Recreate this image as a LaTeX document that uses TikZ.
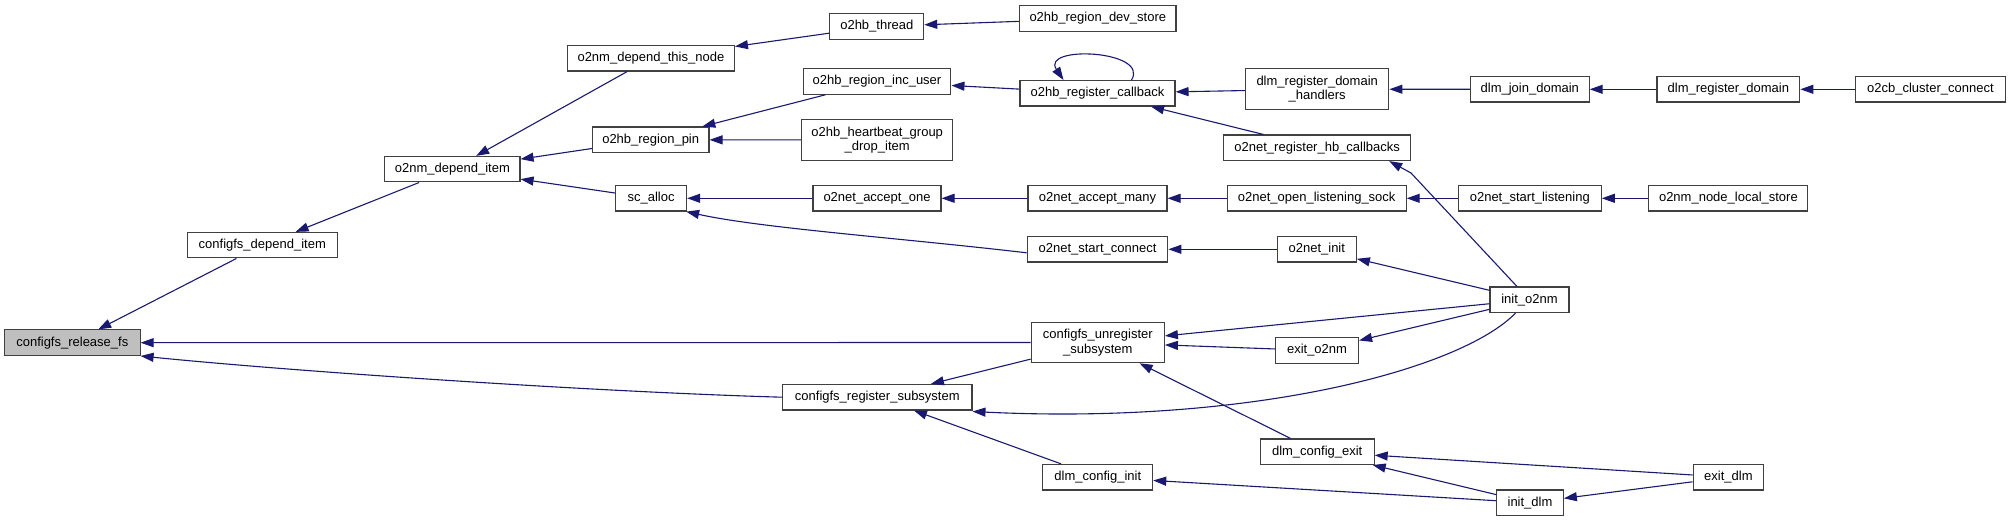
\documentclass[tikz,border=0pt]{standalone}
\usepackage{fontspec}
\setmainfont{Liberation Sans}
\usetikzlibrary{arrows.meta}
\definecolor{edgec}{HTML}{191970}
\definecolor{rootfill}{HTML}{BFBFBF}
\begin{document}
\begin{tikzpicture}[x=1pt,y=-1pt,
  box/.style={draw=black!75, line width=1.1pt, fill=white, inner sep=0pt,
    font=\fontsize{13}{14.5}\selectfont, align=center, minimum height=25.5pt},
  two/.style={minimum height=40.5pt},
  conn/.style={draw=edgec, line width=1.1pt, -{Triangle[length=13pt,width=9pt]}}]
\fill[white] (0,0) rectangle (2011,521);
\useasboundingbox (0,0) rectangle (2011,521);
% nodes
\node[box, fill=rootfill, minimum width=135.5pt] (relfs) at (72.3,342.7) {configfs\_release\_fs};
\node[box, minimum width=149.5pt] (cdep) at (262.3,245.2) {configfs\_depend\_item};
\node[box, minimum width=135.2pt] (ndep) at (452.4,169.2) {o2nm\_depend\_item};
\node[box, minimum width=167pt] (nthis) at (650.9,58.3) {o2nm\_depend\_this\_node};
\node[box, minimum width=116.6pt] (rpin) at (650.7,139.8) {o2hb\_region\_pin};
\node[box, minimum width=71pt] (sca) at (651.1,198.3) {sc\_alloc};
\node[box, minimum width=93.8pt] (thr) at (876.8,26.5) {o2hb\_thread};
\node[box, minimum width=156.3pt] (dev) at (1097.8,18.5) {o2hb\_region\_dev\_store};
\node[box, minimum width=147.8pt] (inc) at (877,81.5) {o2hb\_region\_inc\_user};
\node[box, two, minimum width=150.9pt] (drop) at (877.2,140) {o2hb\_heartbeat\_group\\\_drop\_item};
\node[box, minimum width=155pt] (regcb) at (1097.5,93.3) {o2hb\_register\_callback};
\node[box, two, minimum width=143.3pt] (ddh) at (1317.2,89.2) {dlm\_register\_domain\\\_handlers};
\node[box, minimum width=186.9pt] (hbcb) at (1317.2,147.8) {o2net\_register\_hb\_callbacks};
\node[box, minimum width=128pt] (acc1) at (877,198.3) {o2net\_accept\_one};
\node[box, minimum width=139pt] (accm) at (1097.5,198.3) {o2net\_accept\_many};
\node[box, minimum width=178.9pt] (ols) at (1316.7,198.3) {o2net\_open\_listening\_sock};
\node[box, minimum width=140.7pt] (sconn) at (1097.5,249.3) {o2net\_start\_connect};
\node[box, minimum width=79.1pt] (ninit) at (1316.8,249.3) {o2net\_init};
\node[box, two, minimum width=133.1pt] (unreg) at (1097.8,342.5) {configfs\_unregister\\\_subsystem};
\node[box, minimum width=83.1pt] (exo) at (1317,350.5) {exit\_o2nm};
\node[box, minimum width=189.3pt] (reg) at (877.3,397.2) {configfs\_register\_subsystem};
\node[box, minimum width=113.8pt] (dce) at (1317.2,451.7) {dlm\_config\_exit};
\node[box, minimum width=109.8pt] (dci) at (1097.8,477.2) {dlm\_config\_init};
\node[box, minimum width=118.7pt] (djd) at (1529.8,89.3) {dlm\_join\_domain};
\node[box, minimum width=142.8pt] (drd) at (1728.4,89.3) {dlm\_register\_domain};
\node[box, minimum width=149.6pt] (o2cb) at (1930.4,89.3) {o2cb\_cluster\_connect};
\node[box, minimum width=142.9pt] (nsl) at (1529.8,198.3) {o2net\_start\_listening};
\node[box, minimum width=159pt] (nls) at (1728.4,198.3) {o2nm\_node\_local\_store};
\node[box, minimum width=79pt] (io2) at (1529.5,299.8) {init\_o2nm};
\node[box, minimum width=70.6pt] (exd) at (1728.4,477.2) {exit\_dlm};
\node[box, minimum width=66.6pt] (idlm) at (1530,502.7) {init\_dlm};
\coordinate (bend1) at (1411,173);
% edges
\draw[conn] (cdep) -- (relfs);
\draw[conn] (unreg) -- (relfs);
\draw[conn] (reg.west) .. controls (600,392) and (300,372) .. (relfs.south east);
\draw[conn] (ndep) -- (cdep);
\draw[conn] (nthis) -- (ndep);
\draw[conn] (rpin) -- (ndep);
\draw[conn] (sca) -- (ndep);
\draw[conn] (thr) -- (nthis);
\draw[conn] (dev) -- (thr);
\draw[conn] (inc) -- (rpin);
\draw[conn] (drop) -- (rpin);
\draw[conn] (regcb) -- (inc);
\draw[conn] ([xshift=34pt]regcb.north) .. controls (1150,50) and (1040,45) .. ([xshift=-34pt]regcb.north);
\draw[conn] (ddh) -- (regcb);
\draw[conn] (hbcb) -- (regcb);
\draw[conn] (djd) -- (ddh);
\draw[conn] (drd) -- (djd);
\draw[conn] (o2cb) -- (drd);
\draw[conn] (acc1) -- (sca);
\draw[conn] ([yshift=-3.5pt]sconn.west) .. controls (900,238) and (760,228) .. ([xshift=-1pt]sca.south east);
\draw[conn] (accm) -- (acc1);
\draw[conn] (ols) -- (accm);
\draw[conn] (nsl) -- (ols);
\draw[conn] (nls) -- (nsl);
\draw[conn] (ninit) -- (sconn);
\draw[conn] ([xshift=-12.5pt]io2.north) -- (bend1) -- ([xshift=72pt]hbcb.south);
\draw[conn] (io2) -- (ninit);
\draw[conn] (io2) -- (unreg);
\draw[conn] (io2) -- (exo);
\draw[conn] ([xshift=-14pt]io2.south) .. controls (1460,370) and (1250,425) .. ([yshift=-1pt]reg.south east);
\draw[conn] (exo) -- (unreg);
\draw[conn] (dce) -- (unreg);
\draw[conn] (unreg) -- (reg);
\draw[conn] (dci) -- (reg);
\draw[conn] (exd) -- (dce);
\draw[conn] (idlm) -- (dce);
\draw[conn] (idlm) -- (dci);
\draw[conn] (exd) -- (idlm);
\end{tikzpicture}
\end{document}
